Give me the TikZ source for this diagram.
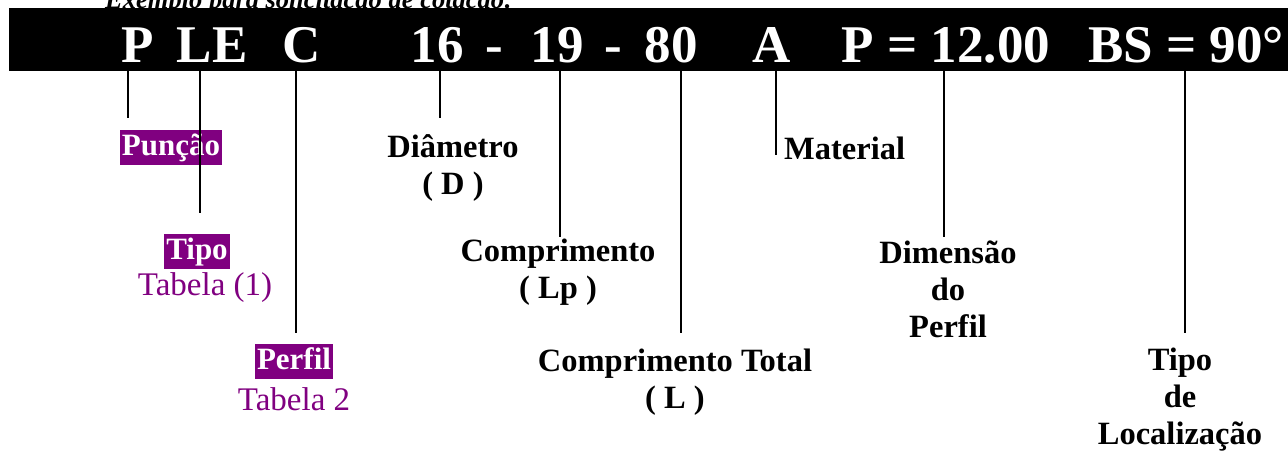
\documentclass[tikz,border=0pt]{standalone}
\usepackage{fontspec}
\setmainfont{Liberation Serif}
\definecolor{punch}{HTML}{800080}

\begin{document}
\begin{tikzpicture}[x=1pt, y=-1pt,
  code/.style={text=white, font=\fontsize{53}{60}\selectfont\bfseries, anchor=base, inner sep=0pt},
  lbl/.style={font=\fontsize{32.5}{37}\selectfont\bfseries, align=center, inner sep=0pt},
  tag/.style={fill=punch, text=white, font=\fontsize{31}{37}\selectfont\bfseries,
    inner xsep=2pt, inner ysep=1pt, text height=25pt, text depth=8pt},
  tab/.style={text=punch, font=\fontsize{33}{37}\selectfont, inner sep=0pt},
  tick/.style={line width=1.2pt}]
\useasboundingbox (0,0) rectangle (1288,451);

% title, half hidden by the bar
\node[font=\fontsize{26.5}{30}\selectfont\bfseries\itshape, anchor=base west, inner sep=0pt] (title) at (105,8) {Exemplo para solicitação de cotação:};
\fill (9,7.5) rectangle (1288,70.7);
\coordinate (barS) at (0,70.7);

% code
\node[code] (kP) at (138,62) {P};
\node[code] (kLE) at (212,62) {LE};
\node[code] (kC) at (302,62) {C};
\node[code] (kD) at (437,62) {16};
\node[code] (m1) at (494,62) {-};
\node[code] (kLp) at (557,62) {19};
\node[code] (m2) at (613,62) {-};
\node[code] (kL) at (671,62) {80};
\node[code] (kA) at (772,62) {A};
\node[code] (kDim) at (946,62) {P = 12.00};
\node[code] (kBS) at (1186,62) {BS = 90°};

% labels
\node[tag] (punch) at (171,147) {Punção};
\node[tag] (tipo) at (197,251) {Tipo};
\node[tab] (tab1) at (205,288) {Tabela (1)};
\node[tag] (perfil) at (294,361) {Perfil};
\node[tab] (tab2) at (294,399) {Tabela 2};
\node[lbl] (diam) at (453,168) {Diâmetro\\( D )};
\node[lbl] (comp) at (558,272) {Comprimento\\( Lp )};
\node[lbl] (total) at (675,382) {Comprimento Total\\( L )};
\node[lbl, anchor=base west] (mat) at (784,159) {Material};
\node[lbl] (dim) at (948,289) {Dimensão\\do\\Perfil};
\node[lbl] (loc) at (1180,400) {Tipo\\de\\Localização};

% ticks
\foreach \n/\x/\y in {P/128/118, LE/200/213, C/296/333, D/440/118, Lp/560/237,
    L/681/333, A/776/155, Dim/944/237, BS/1185/333}{
  \coordinate (t\n) at (\x,\y);
  \draw[tick] (t\n |- barS) -- (t\n);
}
\end{tikzpicture}
\end{document}
